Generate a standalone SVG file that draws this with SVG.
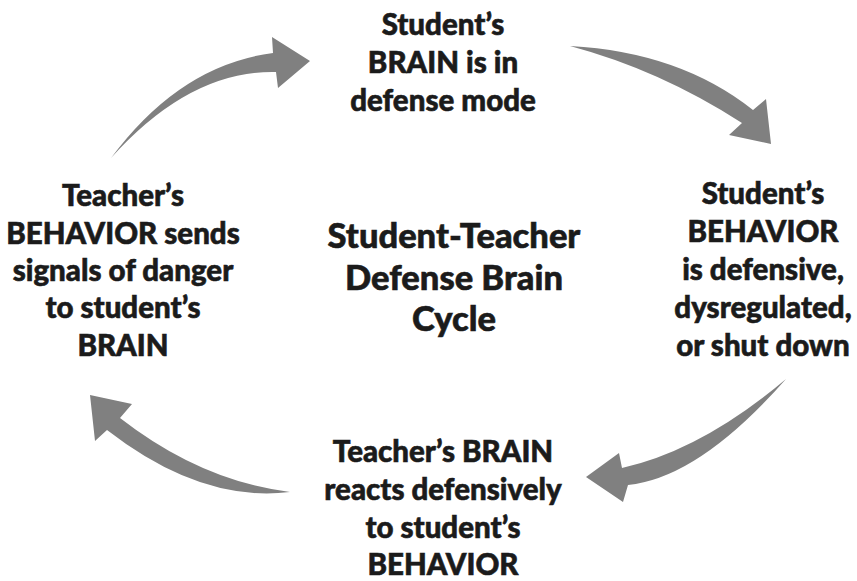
<svg xmlns="http://www.w3.org/2000/svg" width="857" height="581" viewBox="0 0 857 581">
<style>
  .t { font-family: Lato, "Liberation Sans", sans-serif; font-weight: 900; font-size: 29.5px; fill: #1b1b1b; stroke: #1b1b1b; stroke-width: 0.6px; text-anchor: middle; }
  .c { font-size: 34.5px; }
  .arr { fill: #808080; }
</style>
<rect width="857" height="581" fill="#ffffff"/>
<g id="connectors">
  <path class="arr" d="M 111,158 Q 180,65 273,53 L 272,37 L 310,61 L 278,88 L 276,72 Q 190,70 111,158 Z"/>
  <path class="arr" d="M 570,46 Q 680,52 753,110 L 766,99 L 771,144 L 729,135 L 742,123 Q 660,70 570,46 Z"/>
  <path class="arr" d="M 786,379 Q 702,450 622,468 L 619,453 L 586,477 L 623,502 L 628,485 Q 699,478 786,379 Z"/>
  <path class="arr" d="M 290,492 Q 201,481 120,418 L 132,404 L 90,395 L 95,441 L 107,430 Q 201,503 290,492 Z"/>
</g>
<g id="node-top">
  <text class="t" x="443" y="35">Student’s</text>
  <text class="t" x="443" y="73">BRAIN is in</text>
  <text class="t" x="443" y="111">defense mode</text>
</g>
<g id="node-right">
  <text class="t" x="763" y="204">Student’s</text>
  <text class="t" x="763" y="242">BEHAVIOR</text>
  <text class="t" x="763" y="280">is defensive,</text>
  <text class="t" x="763" y="318">dysregulated,</text>
  <text class="t" x="763" y="356">or shut down</text>
</g>
<g id="node-bottom">
  <text class="t" x="443" y="462">Teacher’s BRAIN</text>
  <text class="t" x="443" y="500">reacts defensively</text>
  <text class="t" x="443" y="538">to student’s</text>
  <text class="t" x="443" y="575">BEHAVIOR</text>
</g>
<g id="node-left">
  <text class="t" x="123" y="206">Teacher’s</text>
  <text class="t" x="123" y="244">BEHAVIOR sends</text>
  <text class="t" x="123" y="281">signals of danger</text>
  <text class="t" x="123" y="318">to student’s</text>
  <text class="t" x="123" y="356">BRAIN</text>
</g>
<g id="node-center">
  <text class="t c" x="454" y="248">Student-Teacher</text>
  <text class="t c" x="454" y="290">Defense Brain</text>
  <text class="t c" x="454" y="331">Cycle</text>
</g>
</svg>
